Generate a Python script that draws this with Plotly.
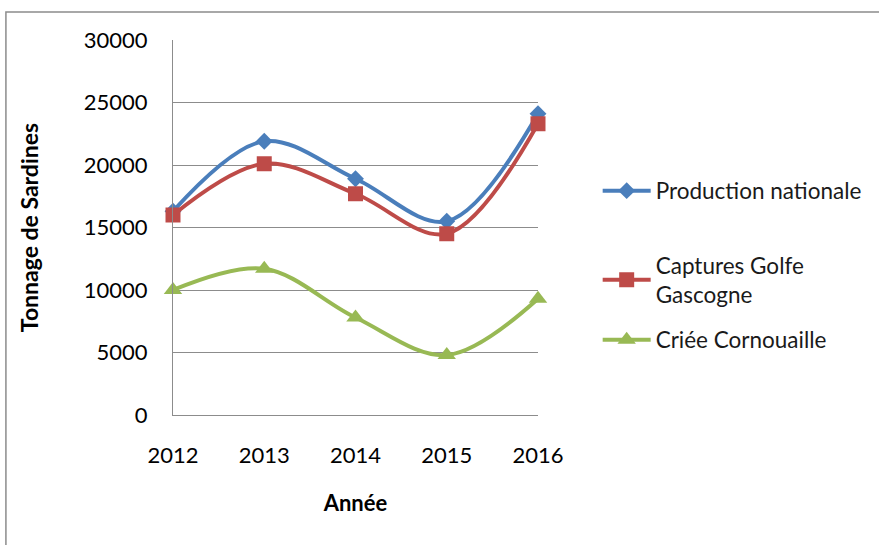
import plotly.graph_objects as go

# Tonnage de sardines par année
annees = [2012, 2013, 2014, 2015, 2016]
production_nationale = [16300, 21900, 18900, 15500, 24100]
captures_gascogne = [16000, 20100, 17700, 14500, 23300]
criee_cornouaille = [10000, 11700, 7800, 4800, 9300]

series = [
    ("Production nationale", production_nationale, "#4A7EBB", "diamond", 13, "legend"),
    ("Captures Golfe<br>Gascogne", captures_gascogne, "#BE4B48", "square", 15, "legend2"),
    ("Criée Cornouaille", criee_cornouaille, "#98B954", "triangle-up", 16, "legend3"),
]

FONT = "Lato, 'Open Sans', sans-serif"

fig = go.Figure()
for name, vals, color, symbol, size, leg in series:
    fig.add_trace(go.Scatter(
        x=annees, y=vals, name=name, mode="lines+markers",
        line=dict(color=color, width=4, shape="spline", smoothing=1.0),
        marker=dict(color=color, symbol=symbol, size=size, line=dict(width=0)),
        cliponaxis=False, legend=leg,
    ))

W, H = 879, 545
L, R, T, B = 173, 540, 40, 415


def px_x(px):
    return (px - L) / (R - L)


def px_y(py):
    return (B - py) / (B - T)


legend_style = dict(
    xanchor="left", yanchor="middle", bgcolor="rgba(0,0,0,0)",
    font=dict(family=FONT, size=22.5, color="#1a1a1a"), itemwidth=48,
)

fig.update_layout(
    width=W, height=H,
    margin=dict(l=L, r=W - R, t=T, b=H - B, pad=0),
    paper_bgcolor="white", plot_bgcolor="white",
    font=dict(family=FONT, size=22, color="#000000"),
    showlegend=True,
    legend=dict(x=px_x(600), y=px_y(191), **legend_style),
    legend2=dict(x=px_x(600), y=px_y(280), **legend_style),
    legend3=dict(x=px_x(600), y=px_y(340), **legend_style),
    xaxis=dict(
        range=[2012, 2016], tickvals=annees, ticktext=[str(a) for a in annees],
        showgrid=False, zeroline=False, showline=True, linecolor="#8C8C8C", linewidth=1,
        ticks="", ticklabelstandoff=21, tickfont=dict(family=FONT, size=22),
        title=dict(text="<b>Année</b>", font=dict(family=FONT, size=22), standoff=28),
        automargin=False,
    ),
    yaxis=dict(
        range=[0, 30000], dtick=5000, tickformat="d",
        showgrid=True, gridcolor="#8C8C8C", gridwidth=1,
        zeroline=False, showline=True, linecolor="#8C8C8C", linewidth=1,
        ticks="", ticklabelstandoff=20, tickfont=dict(family=FONT, size=22),
        title=dict(text="<b>Tonnage de Sardines</b>", font=dict(family=FONT, size=23), standoff=38),
        automargin=False,
    ),
)

# Cadre extérieur du graphique
fig.add_shape(
    type="rect", xref="paper", yref="paper",
    x0=px_x(5), x1=px_x(895), y0=px_y(600), y1=px_y(12),
    line=dict(color="#8C8C8C", width=1.5), fillcolor="rgba(0,0,0,0)", layer="below",
)

fig.write_html("out.html")
